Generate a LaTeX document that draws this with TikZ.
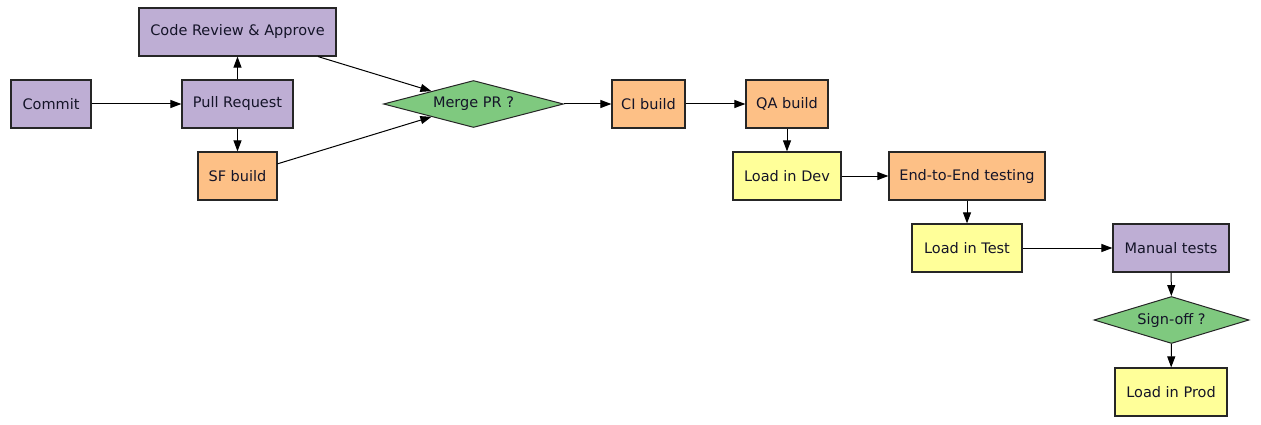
\documentclass[tikz,border=0pt]{standalone}
\usepackage{fontspec}
\setmainfont{DejaVu Sans}
\usetikzlibrary{shapes.geometric,arrows.meta}
\definecolor{cpurple}{HTML}{BEAED4}
\definecolor{corange}{HTML}{FDC086}
\definecolor{cyellow}{HTML}{FFFF99}
\definecolor{cgreen}{HTML}{7FC97F}
\definecolor{ctext}{HTML}{141428}
\begin{document}
\begin{tikzpicture}[x=1pt,y=-1pt,
  box/.style={draw=black!85,line width=1.2pt,rectangle,inner sep=0pt,minimum height=48pt,text=ctext,font=\fontsize{14.5}{17}\selectfont},
  dia/.style={draw=black!85,line width=1pt,diamond,inner sep=0pt,aspect=3.7,text=ctext,font=\fontsize{14.5}{17}\selectfont},
  pbox/.style={box,fill=cpurple},
  obox/.style={box,fill=corange},
  ybox/.style={box,fill=cyellow},
  gdia/.style={dia,fill=cgreen},
  edge/.style={draw=black,line width=1pt,-{Triangle[length=11pt,width=8pt]}}
]
\useasboundingbox (0,0) rectangle (1261,425);
\node[pbox,minimum width=80pt] (commit) at (51,104) {Commit};
\node[pbox,minimum width=111pt] (pr) at (237.5,104) {Pull Request};
\node[pbox,minimum width=197pt] (cr) at (237.5,32) {Code Review \& Approve};
\node[obox,minimum width=79pt] (sf) at (237.5,176) {SF build};
\node[gdia,minimum width=180pt,minimum height=47pt] (merge) at (473.5,104) {Merge PR ?};
\node[obox,minimum width=73pt] (ci) at (648.5,104) {CI build};
\node[obox,minimum width=82pt] (qa) at (787,104) {QA build};
\node[ybox,minimum width=108pt] (dev) at (787,176) {Load in Dev};
\node[obox,minimum width=156pt] (e2e) at (967,176) {End-to-End testing};
\node[ybox,minimum width=110pt] (test) at (967,248) {Load in Test};
\node[pbox,minimum width=116pt] (manual) at (1171,248) {Manual tests};
\node[gdia,minimum width=155pt,minimum height=47pt] (sign) at (1171.5,320) {Sign-off ?};
\node[ybox,minimum width=112pt] (prod) at (1171,392) {Load in Prod};
\draw[edge] (commit) -- (pr);
\draw[edge] (pr) -- (cr);
\draw[edge] (pr) -- (sf);
\draw[edge] (cr) -- (merge);
\draw[edge] (sf) -- (merge);
\draw[edge] (merge) -- (ci);
\draw[edge] (ci) -- (qa);
\draw[edge] (qa) -- (dev);
\draw[edge] (dev) -- (e2e);
\draw[edge] (e2e) -- (test);
\draw[edge] (test) -- (manual);
\draw[edge] (manual) -- (sign);
\draw[edge] (sign) -- (prod);
\end{tikzpicture}
\end{document}
